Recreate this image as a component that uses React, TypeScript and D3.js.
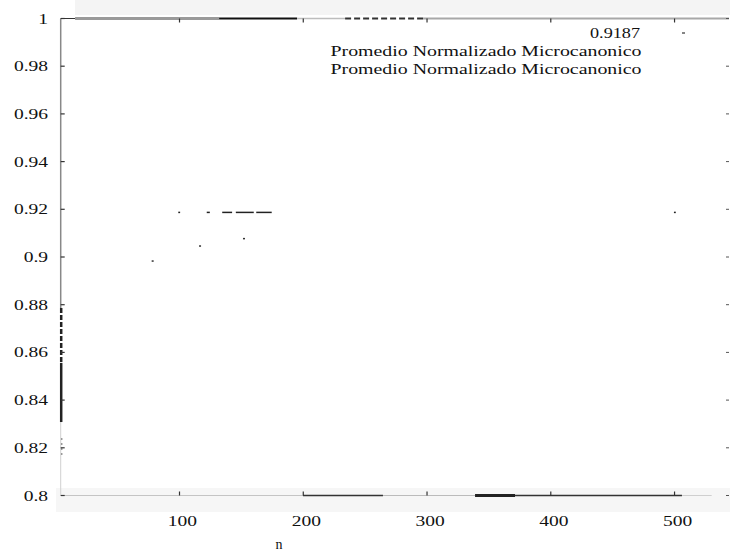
import React from 'react';
import * as d3 from 'd3';

// ---- data ----
const xTicks = [100, 200, 300, 400, 500];
const xTickLabels = ['100', '200', '300', '400', '500'];
const yTicks = [1, 0.98, 0.96, 0.94, 0.92, 0.9, 0.88, 0.86, 0.84, 0.82, 0.8];
const yTickLabels = ['1', '0.98', '0.96', '0.94', '0.92', '0.9', '0.88', '0.86', '0.84', '0.82', '0.8'];
const promN = [78.3, 116.6, 152.1];
const promV = [0.8983, 0.9046, 0.9077];
const constValue = 0.9187;
// visible (un-faded) pieces of the constant line, in n units
const constSegStart = [99, 122, 134.5, 145.5, 162, 499.5];
const constSegEnd = [100.5, 124.5, 142.5, 160, 174.5, 501];
const legendLabels = ['0.9187', 'Promedio Normalizado Microcanonico', 'Promedio Normalizado Microcanonico'];
const xLabel = 'n';

const W = 730, H = 554;
const L = 60.7, R = 729, T = 18.5, B = 495.5;
const FONT = '"Liberation Serif", "DejaVu Serif", serif';

export default function App() {
  const x = d3.scaleLinear().domain([4, 544]).range([L, R]);
  const y = d3.scaleLinear().domain([0.8, 1]).range([B, T]);
  const fs = 15;
  const estW = (s: string) => {
    let w = 0;
    for (const c of s) w += c === '.' ? 0.25 : 0.5;
    return w * fs * 1.3;
  };

  const hSeg = (a: number, b: number, yy: number, color: string, sw: number, dash?: string, key?: string) => (
    <line key={key} x1={x(a)} x2={x(b)} y1={yy} y2={yy} stroke={color} strokeWidth={sw} strokeDasharray={dash} />
  );
  const vSeg = (a: number, b: number, xx: number, color: string, sw: number, dash?: string, key?: string) => (
    <line key={key} x1={xx} x2={xx} y1={y(a)} y2={y(b)} stroke={color} strokeWidth={sw} strokeDasharray={dash} />
  );

  const lineGen = d3.line<number>().x((d) => x(d)).y(() => y(constValue));

  return (
    <svg width={W} height={H} style={{ position: 'absolute', left: 0, top: 0, background: '#fff' }} fontFamily={FONT}>
      {/* scan shading */}
      <rect x={75} y={0} width={W - 75} height={15} fill="#f4f4f4" />
      <rect x={56} y={488} width={W - 56} height={24} fill="#f6f6f6" />

      {/* top border */}
      {hSeg(4, 15.6, T, '#333', 1, undefined, 't0')}
      {hSeg(15.6, 132, T, '#9a9a9a', 3, undefined, 't1')}
      {hSeg(132, 195, T, '#111', 2, undefined, 't2')}
      {hSeg(195, 233.8, T, '#bdbdbd', 1.5, undefined, 't3')}
      {hSeg(233.8, 296.8, T, '#333', 2, '6 3', 't4')}
      {hSeg(296.8, 544, T, '#a8a8a8', 2, undefined, 't5')}

      {/* bottom border */}
      {hSeg(4, 199.8, B, '#c4c4c4', 1, undefined, 'b0')}
      {hSeg(199.8, 264.4, B, '#333', 1.5, undefined, 'b1')}
      {hSeg(264.4, 338.8, B, '#bbb', 1, undefined, 'b2')}
      {hSeg(338.8, 371.1, B, '#222', 3, undefined, 'b3')}
      {hSeg(371.1, 506, B, '#333', 1.5, undefined, 'b4')}
      {hSeg(506, 530, B, '#cfcfcf', 1, undefined, 'b5')}

      {/* left border */}
      {vSeg(1, 0.8786, L, '#888', 1.5, undefined, 'l0')}
      {vSeg(0.8786, 0.8556, L + 0.5, '#222', 2.5, '5 2', 'l1')}
      {vSeg(0.8556, 0.8308, L + 0.5, '#222', 2.5, undefined, 'l2')}
      {vSeg(0.8308, 0.8, L, '#d0d0d0', 1, undefined, 'l3')}
      {vSeg(0.8241, 0.8157, L + 1, '#999', 1.5, '2 3', 'l4')}

      {/* y ticks + mirror */}
      {yTicks.map((v, i) => (
        <g key={'yt' + i}>
          <line x1={L} x2={L + 4} y1={y(v)} y2={y(v)} stroke="#333" strokeWidth={1.2} />
          <line x1={R} x2={R - 3} y1={y(v)} y2={y(v)} stroke="#555" strokeWidth={1} />
          <text x={48} y={y(v) + 5} textAnchor="end" fontSize={fs} fill="#111"
            textLength={estW(yTickLabels[i])} lengthAdjust="spacingAndGlyphs">{yTickLabels[i]}</text>
        </g>
      ))}

      {/* x ticks + mirror */}
      {xTicks.map((v, i) => (
        <g key={'xt' + i}>
          <line x1={x(v)} x2={x(v)} y1={B} y2={B - 4} stroke="#333" strokeWidth={1.2} />
          <line x1={x(v)} x2={x(v)} y1={T} y2={T + 4} stroke="#333" strokeWidth={1.2} />
          <text x={x(v) + 3} y={526} textAnchor="middle" fontSize={fs} fill="#111"
            textLength={estW(xTickLabels[i])} lengthAdjust="spacingAndGlyphs">{xTickLabels[i]}</text>
        </g>
      ))}

      <text x={279} y={549} textAnchor="middle" fontSize={14} fill="#111">{xLabel}</text>

      {/* constant line 0.9187 (faded scan: visible pieces) */}
      {constSegStart.map((s, i) => (
        <path key={'c' + i} d={lineGen([s, constSegEnd[i]]) || ''} stroke="#222" strokeWidth={1.5} fill="none" />
      ))}

      {/* Promedio points */}
      {promN.map((n, i) => (
        <rect key={'p' + i} x={x(n) - 1} y={y(promV[i]) - 0.75} width={2} height={1.5} fill="#333" />
      ))}

      {/* legend */}
      <text x={640} y={38} textAnchor="end" fontSize={fs} fill="#111" textLength={50} lengthAdjust="spacingAndGlyphs">{legendLabels[0]}</text>
      <line x1={682} x2={685} y1={33} y2={33} stroke="#333" strokeWidth={1.2} />
      <text x={641.5} y={56} textAnchor="end" fontSize={fs} fill="#111" textLength={311} lengthAdjust="spacingAndGlyphs">{legendLabels[1]}</text>
      <text x={641.5} y={74} textAnchor="end" fontSize={fs} fill="#111" textLength={311} lengthAdjust="spacingAndGlyphs">{legendLabels[2]}</text>
    </svg>
  );
}
